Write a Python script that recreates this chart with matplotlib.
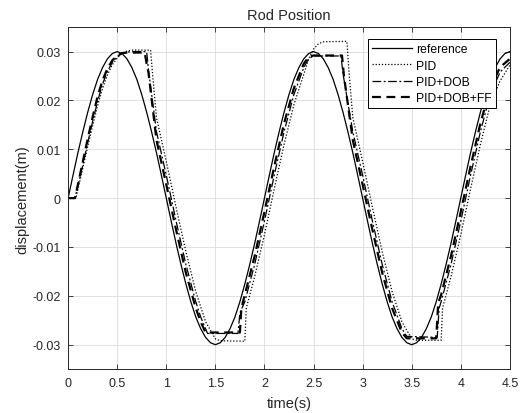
import numpy as np
import matplotlib
matplotlib.use("Agg")
import matplotlib.pyplot as plt

plt.rcParams['font.family'] = ['Liberation Sans', 'DejaVu Sans']

# reference trajectory, read every 0.05 s
t_ref = np.linspace(0, 4.5, 91)
y_ref = [0, .0047, .0093, .0136, .0176, .0212, .0243, .0267, .0285, .0296, .0300,
         .0296, .0285, .0267, .0243, .0212, .0176, .0136, .0093, .0047, 0,
         -.0047, -.0093, -.0136, -.0176, -.0212, -.0243, -.0267, -.0285, -.0296, -.0300,
         -.0296, -.0285, -.0267, -.0243, -.0212, -.0176, -.0136, -.0093, -.0047, 0,
         .0047, .0093, .0136, .0176, .0212, .0243, .0267, .0285, .0296, .0300,
         .0296, .0285, .0267, .0243, .0212, .0176, .0136, .0093, .0047, 0,
         -.0047, -.0093, -.0136, -.0176, -.0212, -.0243, -.0267, -.0285, -.0296, -.0300,
         -.0296, -.0285, -.0267, -.0243, -.0212, -.0176, -.0136, -.0093, -.0047, 0,
         .0047, .0093, .0136, .0176, .0212, .0243, .0267, .0285, .0296, .0300]

# PID
t_pid = [0, 0.08, 0.15, 0.2, 0.25, 0.3, 0.35, 0.4, 0.45, 0.5, 0.55, 0.6, 0.65, 0.84,
         0.86, 0.9, 1.0, 1.1, 1.2, 1.3, 1.4, 1.5, 1.55, 1.8,
         1.815, 1.9, 2.0, 2.1, 2.2, 2.3, 2.4, 2.45, 2.5, 2.55, 2.6, 2.84,
         2.86, 2.9, 3.0, 3.1, 3.2, 3.3, 3.4, 3.5, 3.55, 3.8,
         3.815, 3.9, 4.0, 4.1, 4.2, 4.3, 4.4, 4.5]
y_pid = [0, 0, .0062, .0106, .0148, .0189, .0224, .0252, .0273, .0287, .0296, .0301, .0303, .0303,
         .0255, .0165, .0075, -.0019, -.0110, -.0191, -.0253, -.0288, -.0292, -.0293,
         -.0225, -.0161, -.0075, .0019, .0110, .0191, .0253, .0285, .0305, .0316, .0320, .0321,
         .0262, .0165, .0075, -.0019, -.0110, -.0191, -.0253, -.0288, -.0291, -.0291,
         -.0225, -.0161, -.0075, .0019, .0110, .0191, .0240, .0272]

# PID+DOB
t_dob = [0, 0.07, 0.15, 0.2, 0.25, 0.3, 0.35, 0.4, 0.45, 0.5, 0.55, 0.6, 0.65, 0.80,
         0.82, 0.9, 1.0, 1.1, 1.2, 1.3, 1.35, 1.42, 1.73,
         1.75, 1.8, 1.9, 2.0, 2.1, 2.2, 2.3, 2.4, 2.45, 2.5, 2.78,
         2.80, 2.9, 3.0, 3.1, 3.2, 3.3, 3.4, 3.45, 3.76,
         3.78, 3.8, 3.9, 4.0, 4.1, 4.2, 4.3, 4.4, 4.5]
y_dob = [0, 0, .0068, .0114, .0157, .0198, .0233, .0259, .0278, .0290, .0296, .0299, .0300, .0300,
         .0260, .0136, .0047, -.0047, -.0136, -.0212, -.0243, -.0277, -.0277,
         -.0235, -.0212, -.0136, -.0047, .0047, .0136, .0212, .0267, .0285, .0291, .0291,
         .0255, .0136, .0047, -.0047, -.0136, -.0212, -.0267, -.0283, -.0285,
         -.0225, -.0212, -.0136, -.0047, .0047, .0136, .0212, .0258, .0278]

# PID+DOB+FF
t_ff = [0, 0.07, 0.15, 0.2, 0.25, 0.3, 0.35, 0.4, 0.45, 0.5, 0.55, 0.6, 0.65, 0.78,
        0.80, 0.82, 0.9, 1.0, 1.1, 1.2, 1.3, 1.35, 1.4, 1.75,
        1.765, 1.8, 1.9, 2.0, 2.1, 2.2, 2.3, 2.4, 2.45, 2.5, 2.79,
        2.81, 2.9, 3.0, 3.1, 3.2, 3.3, 3.4, 3.45, 3.75,
        3.77, 3.8, 3.9, 4.0, 4.1, 4.2, 4.3, 4.4, 4.5]
y_ff = [0, 0, .0075, .0122, .0166, .0208, .0241, .0265, .0282, .0292, .0297, .0298, .0298, .0298,
        .0275, .0255, .0119, .0028, -.0065, -.0153, -.0225, -.0253, -.0275, -.0275,
        -.0225, -.0198, -.0119, -.0028, .0065, .0153, .0225, .0275, .0289, .0292, .0292,
        .0250, .0119, .0028, -.0065, -.0153, -.0225, -.0275, -.0287, -.0287,
        -.0215, -.0198, -.0119, -.0028, .0065, .0153, .0225, .0268, .0285]

fig = plt.figure(figsize=(5.24, 4.14), dpi=100)
ax = fig.add_axes([0.130, 0.106, 0.843, 0.826])

ax.plot(t_ref, y_ref, color='k', lw=0.9, label='reference')
ax.plot(t_pid, y_pid, color='k', lw=0.9, linestyle=(0, (1, 1.5)), label='PID')
ax.plot(t_dob, y_dob, color='k', lw=0.9, linestyle=(0, (7, 2, 1.5, 2)), label='PID+DOB')
ax.plot(t_ff, y_ff, color='k', lw=1.6, linestyle=(0, (4, 2.5)), label='PID+DOB+FF')

ax.set_xlim(0, 4.5)
ax.set_ylim(-0.035, 0.035)
ax.set_xticks(np.arange(0, 4.51, 0.5))
ax.set_xticklabels(['0', '0.5', '1', '1.5', '2', '2.5', '3', '3.5', '4', '4.5'])
ax.set_yticks([-0.03, -0.02, -0.01, 0, 0.01, 0.02, 0.03])
ax.set_yticklabels(['-0.03', '-0.02', '-0.01', '0', '0.01', '0.02', '0.03'])
ax.tick_params(direction='in', top=True, right=True, length=3.5, width=0.6,
               labelsize=9, colors='#262626', pad=5.5)
ax.grid(True, color='#dcdcdc', lw=0.6)
ax.set_axisbelow(True)
for s in ax.spines.values():
    s.set_linewidth(0.7)
    s.set_color('#262626')

ax.set_xlabel('time(s)', fontsize=10.5, color='#262626', labelpad=5)
ax.set_ylabel('displacement(m)', fontsize=10.5, color='#262626', labelpad=2)
ax.set_title('Rod Position', fontsize=10.5, color='#262626', pad=6)

leg = ax.legend(loc='upper right', bbox_to_anchor=(0.968, 0.965), fontsize=8.7,
                handlelength=3.3, handletextpad=0.3, borderpad=0.35, labelspacing=0.35,
                fancybox=False, framealpha=1, borderaxespad=0)
leg.get_frame().set_edgecolor('k')
leg.get_frame().set_linewidth(0.7)

fig.savefig('out.png', dpi=100)
